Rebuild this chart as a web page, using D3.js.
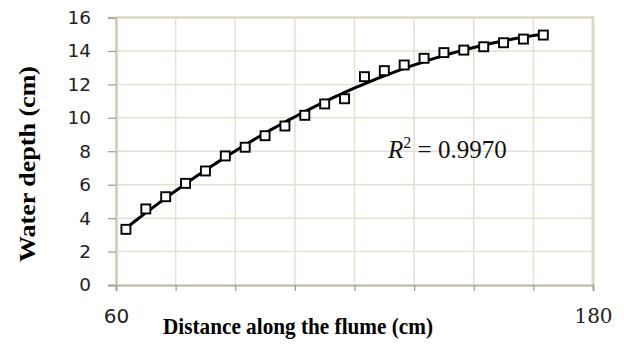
<!DOCTYPE html>
<html>
<head>
<meta charset="utf-8">
<script src="https://cdn.jsdelivr.net/npm/d3@7"></script>
<style>
  body { margin: 0; background: #fff; }
</style>
</head>
<body>
<script>
const width = 624;
const height = 347;

// measured points (distance cm, water depth cm)
const distance = [62.5, 67.5, 72.5, 77.5, 82.5, 87.5, 92.5, 97.5, 102.5, 107.5, 112.5,
    117.5, 122.5, 127.5, 132.5, 137.5, 142.5, 147.5, 152.5, 157.5, 162.5, 167.5];
const depth = [3.33, 4.55, 5.28, 6.08, 6.82, 7.72, 8.24, 8.93, 9.51, 10.15, 10.83,
    11.14, 12.46, 12.82, 13.16, 13.56, 13.90, 14.05, 14.25, 14.49, 14.71, 14.95];

const xTicks = [60, 75, 90, 105, 120, 135, 150, 165, 180];
const xTickLabels = {60: "60", 180: "180"};
const yTicks = [0, 2, 4, 6, 8, 10, 12, 14, 16];
const r2Text = "0.9970";

const margin = {top: 17.5, right: 31, bottom: 62, left: 116};

const svg = d3.select("body").append("svg")
    .attr("width", width)
    .attr("height", height);

const x = d3.scaleLinear().domain([60, 180]).range([margin.left, width - margin.right]);
const y = d3.scaleLinear().domain([0, 16]).range([height - margin.bottom, margin.top]);

// grid
svg.append("g")
    .selectAll("line.vg")
    .data(xTicks.slice(1, -1))
    .enter().append("line")
    .attr("x1", d => x(d)).attr("x2", d => x(d))
    .attr("y1", y(0)).attr("y2", y(16))
    .attr("stroke", "#e6e1cc")
    .attr("stroke-width", 1.5);

svg.append("g")
    .selectAll("line.hg")
    .data(yTicks.slice(1, -1))
    .enter().append("line")
    .attr("x1", x(60)).attr("x2", x(180))
    .attr("y1", d => y(d)).attr("y2", d => y(d))
    .attr("stroke", "#e6e1cc")
    .attr("stroke-width", 1.5);

// frame top/right
svg.append("line")
    .attr("x1", x(60)).attr("x2", x(180) + 1)
    .attr("y1", y(16)).attr("y2", y(16))
    .attr("stroke", "#ddd8c2").attr("stroke-width", 2.5);
svg.append("line")
    .attr("x1", x(180)).attr("x2", x(180))
    .attr("y1", y(16)).attr("y2", y(0))
    .attr("stroke", "#ddd8c2").attr("stroke-width", 3);

// y axis
const yAxis = d3.axisLeft(y).tickValues(yTicks).tickSize(8).tickPadding(17);
const gy = svg.append("g")
    .attr("transform", `translate(${x(60)},0)`)
    .call(yAxis);
gy.select(".domain").attr("stroke", "#cfc9b0").attr("stroke-width", 2.5);
gy.selectAll(".tick line").attr("stroke", "#9a9a9a").attr("stroke-width", 1.2);
gy.selectAll(".tick text")
    .attr("fill", "#222")
    .style("font-family", "DejaVu Sans, sans-serif")
    .style("font-size", "18.5px");

// x axis
const xAxis = d3.axisBottom(x).tickValues(xTicks).tickSize(6).tickFormat(d => xTickLabels[d] || "");
const gx = svg.append("g")
    .attr("transform", `translate(0,${y(0)})`)
    .call(xAxis);
gx.select(".domain").attr("stroke", "#b9b4a0").attr("stroke-width", 2);
gx.selectAll(".tick line").attr("stroke", "#9a9a9a").attr("stroke-width", 1.2);
gx.selectAll(".tick text")
    .attr("fill", "#222")
    .attr("y", 38)
    .attr("dy", "0")
    .style("font-size", "20px")
    .style("font-family", d => d === 180 ? "DejaVu Serif, serif" : "DejaVu Sans, sans-serif");

// quadratic least-squares trendline
function polyFit2(xs, ys) {
    let s = [0, 0, 0, 0, 0], t = [0, 0, 0];
    xs.forEach((xi, i) => {
        let p = 1;
        for (let k = 0; k < 5; k++) { s[k] += p; if (k < 3) t[k] += p * ys[i]; p *= xi; }
    });
    const A = [[s[0], s[1], s[2], t[0]], [s[1], s[2], s[3], t[1]], [s[2], s[3], s[4], t[2]]];
    for (let i = 0; i < 3; i++) {
        for (let j = i + 1; j < 3; j++) {
            const f = A[j][i] / A[i][i];
            for (let k = i; k < 4; k++) A[j][k] -= f * A[i][k];
        }
    }
    const c = [0, 0, 0];
    for (let i = 2; i >= 0; i--) {
        let v = A[i][3];
        for (let k = i + 1; k < 3; k++) v -= A[i][k] * c[k];
        c[i] = v / A[i][i];
    }
    return c;
}
const coef = polyFit2(distance, depth);
const fit = v => coef[0] + coef[1] * v + coef[2] * v * v;
const fitLine = d3.range(d3.min(distance), d3.max(distance) + 0.01, 1).map(v => [v, fit(v)]);

svg.append("path")
    .datum(fitLine)
    .attr("fill", "none")
    .attr("stroke", "#000")
    .attr("stroke-width", 3)
    .attr("d", d3.line().x(d => x(d[0])).y(d => y(d[1])));

// markers
const points = distance.map((d, i) => ({x: d, y: depth[i]}));
svg.append("g")
    .selectAll("rect")
    .data(points)
    .enter().append("rect")
    .attr("x", d => x(d.x) - 4.5)
    .attr("y", d => y(d.y) - 4.5)
    .attr("width", 9)
    .attr("height", 9)
    .attr("fill", "#fff")
    .attr("stroke", "#000")
    .attr("stroke-width", 1.9);

// R squared
const r2 = svg.append("text")
    .attr("x", 388)
    .attr("y", 158)
    .style("font-family", "Liberation Serif, Times New Roman, serif")
    .style("font-size", "25px")
    .attr("fill", "#111");
r2.append("tspan").style("font-style", "italic").text("R");
r2.append("tspan").attr("dy", -10).style("font-size", "16px").text("2");
r2.append("tspan").attr("dy", 10).text(" = " + r2Text);

// axis titles
svg.append("text")
    .attr("x", 298)
    .attr("y", 334)
    .attr("text-anchor", "middle")
    .attr("textLength", 270)
    .attr("lengthAdjust", "spacingAndGlyphs")
    .style("font-family", "Liberation Serif, Times New Roman, serif")
    .style("font-weight", "bold")
    .style("font-size", "23px")
    .text("Distance along the flume (cm)");

svg.append("text")
    .attr("transform", "translate(35,164) rotate(-90)")
    .attr("text-anchor", "middle")
    .attr("textLength", 196)
    .attr("lengthAdjust", "spacingAndGlyphs")
    .style("font-family", "Liberation Serif, Times New Roman, serif")
    .style("font-weight", "bold")
    .style("font-size", "23px")
    .text("Water depth (cm)");
</script>
</body>
</html>
